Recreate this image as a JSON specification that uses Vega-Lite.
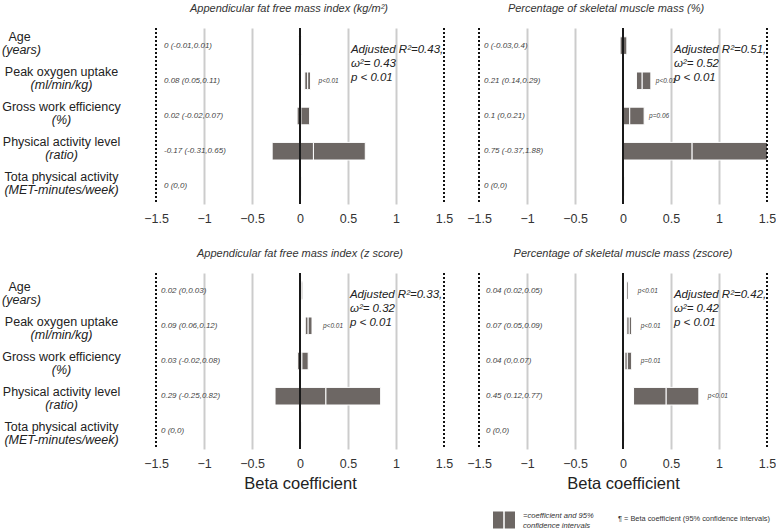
{
  "$schema": "https://vega.github.io/schema/vega-lite/v6.json",
  "background": "white",
  "padding": {"left": 1, "top": 3, "right": 0, "bottom": 0},
  "config": {
    "font": "Liberation Sans",
    "view": {"stroke": null},
    "title": {"fontSize": 11, "fontStyle": "italic", "fontWeight": "normal", "color": "#333", "offset": 13},
    "axisX": {"labelFlush": false}
  },
  "datasets": {
    "rows": [
      {"panel": "A", "v": "Age", "lab": "0 (-0.01,0.01)", "lo": -0.015, "coef": 0, "hi": 0.015, "ann": "Adjusted R²=0.43,\nω²= 0.43\np < 0.01"},
      {"panel": "A", "v": "Peak oxygen uptake", "lab": "0.08 (0.05,0.11)", "lo": 0.05, "coef": 0.08, "hi": 0.11, "p": "p<0.01"},
      {"panel": "A", "v": "Gross work efficiency", "lab": "0.02 (-0.02,0.07)", "lo": -0.03, "coef": 0.01, "hi": 0.1},
      {"panel": "A", "v": "Physical activity level", "lab": "-0.17 (-0.31,0.65)", "lo": -0.29, "coef": 0.14, "hi": 0.68},
      {"panel": "A", "v": "Tota physical activity", "lab": "0 (0,0)", "lo": 0, "coef": 0, "hi": 0.012},
      {"panel": "B", "v": "Age", "lab": "0 (-0.03,0.4)", "lo": -0.03, "coef": 0, "hi": 0.04, "ann": "Adjusted R²=0.51,\nω²= 0.52\np < 0.01"},
      {"panel": "B", "v": "Peak oxygen uptake", "lab": "0.21 (0.14,0.29)", "lo": 0.14, "coef": 0.2, "hi": 0.29, "p": "p<0.01"},
      {"panel": "B", "v": "Gross work efficiency", "lab": "0.1 (0,0.21)", "lo": 0, "coef": 0.07, "hi": 0.22, "p": "p=0.06"},
      {"panel": "B", "v": "Physical activity level", "lab": "0.75 (-0.37,1.88)", "lo": 0, "coef": 0.72, "hi": 1.88},
      {"panel": "B", "v": "Tota physical activity", "lab": "0 (0,0)", "lo": 0, "coef": 0, "hi": 0.012},
      {"panel": "C", "v": "Age", "lab": "0.02 (0,0.03)", "lo": 0, "coef": 0.02, "hi": 0.03, "ann": "Adjusted R²=0.33,\nω²= 0.32\np < 0.01"},
      {"panel": "C", "v": "Peak oxygen uptake", "lab": "0.09 (0.06,0.12)", "lo": 0.055, "coef": 0.085, "hi": 0.125, "p": "p<0.01"},
      {"panel": "C", "v": "Gross work efficiency", "lab": "0.03 (-0.02,0.08)", "lo": -0.025, "coef": 0.02, "hi": 0.085},
      {"panel": "C", "v": "Physical activity level", "lab": "0.29 (-0.25,0.82)", "lo": -0.26, "coef": 0.27, "hi": 0.84},
      {"panel": "C", "v": "Tota physical activity", "lab": "0 (0,0)", "lo": 0, "coef": 0, "hi": 0.012},
      {"panel": "D", "v": "Age", "lab": "0.04 (0.02,0.05)", "lo": 0.04, "coef": 0.06, "hi": 0.06, "p": "p<0.01", "ann": "Adjusted R²=0.42,\nω²= 0.42\np < 0.01"},
      {"panel": "D", "v": "Peak oxygen uptake", "lab": "0.07 (0.05,0.09)", "lo": 0.04, "coef": 0.065, "hi": 0.09, "p": "p<0.01"},
      {"panel": "D", "v": "Gross work efficiency", "lab": "0.04 (0,0.07)", "lo": 0.02, "coef": 0.045, "hi": 0.09, "p": "p=0.01"},
      {"panel": "D", "v": "Physical activity level", "lab": "0.45 (0.12,0.77)", "lo": 0.11, "coef": 0.45, "hi": 0.79, "p": "p<0.01"},
      {"panel": "D", "v": "Tota physical activity", "lab": "0 (0,0)", "lo": 0, "coef": 0, "hi": 0.012}
    ]
  },
  "columns": 2,
  "bounds": "flush",
  "spacing": {"row": 69, "column": 35},
  "concat": [
    {
      "width": 288, "height": 176,
      "title": {"text": "Appendicular fat free mass index (kg/m²)", "dx": -11},
      "data": {"name": "rows"},
      "transform": [{"filter": "datum.panel == 'A'"}],
      "resolve": {"axis": {"y": "independent"}},
      "layer": [
        {
          "mark": {"type": "bar", "height": {"band": 0.5}, "fill": "#6d6764", "stroke": "white", "strokeWidth": 1, "clip": true},
          "encoding": {
            "y": {"field": "v", "type": "nominal", "scale": {"domain": ["Age", "Peak oxygen uptake", "Gross work efficiency", "Physical activity level", "Tota physical activity"], "paddingInner": 0, "paddingOuter": 0},
              "axis": {"orient": "left", "title": null, "domain": false, "ticks": false, "labelAlign": "center", "labelBaseline": "middle", "labelPadding": {"condition": {"test": "datum.value == 'Age'", "value": 137}, "value": 95}, "labelOffset": -9, "labelFontSize": 12.5, "labelColor": "#222", "labelLimit": 250}},
            "x": {"field": "lo", "type": "quantitative", "scale": {"domain": [-1.5, 1.5], "nice": false, "zero": false},
              "axis": {"title": null, "values": [-1.5, -1, -0.5, 0, 0.5, 1, 1.5], "format": "~g", "domain": false, "ticks": false, "labelFlush": false, "labelPadding": 8, "labelFontSize": 12.5, "labelColor": "#333", "grid": true, "gridWidth": 2, "gridColor": "#cccccc",
                "gridOpacity": {"condition": {"test": "datum.value == 0 || abs(datum.value) == 1.5", "value": 0}, "value": 1}}},
            "x2": {"field": "coef"}
          }
        },
        {
          "mark": {"type": "bar", "height": {"band": 0.5}, "fill": "#6d6764", "stroke": "white", "strokeWidth": 1, "clip": true},
          "encoding": {
            "y": {"field": "v", "type": "nominal",
              "axis": {"orient": "left", "title": null, "domain": false, "ticks": false, "labelAlign": "center", "labelBaseline": "middle", "labelPadding": {"condition": {"test": "datum.value == 'Age'", "value": 135}, "value": 95}, "labelOffset": 4, "labelFontSize": 12.5, "labelFontStyle": "italic", "labelColor": "#222", "labelLimit": 250,
                "labelExpr": "datum.value == 'Age' ? '(years)' : datum.value == 'Peak oxygen uptake' ? '(ml/min/kg)' : datum.value == 'Gross work efficiency' ? '(%)' : datum.value == 'Physical activity level' ? '(ratio)' : '(MET-minutes/week)'"}},
            "x": {"field": "coef", "type": "quantitative"},
            "x2": {"field": "hi"}
          }
        },
        {
          "mark": {"type": "text", "align": "left", "dx": 8, "fontSize": 8, "fontStyle": "italic", "color": "#444"},
          "encoding": {"y": {"field": "v", "type": "nominal", "axis": null}, "x": {"datum": -1.5}, "text": {"field": "lab"}}
        },
        {
          "transform": [{"filter": "isValid(datum.p)"}],
          "mark": {"type": "text", "align": "left", "dx": 8, "fontSize": 6.5, "fontStyle": "italic", "color": "#444"},
          "encoding": {"y": {"field": "v", "type": "nominal", "axis": null}, "x": {"field": "hi", "type": "quantitative"}, "text": {"field": "p"}}
        },
        {"mark": {"type": "rule", "color": "#1a1a1a", "strokeWidth": 1.6}, "encoding": {"x": {"datum": 0}}},
        {"mark": {"type": "rule", "color": "#111", "strokeWidth": 2, "strokeDash": [2, 2]}, "encoding": {"x": {"datum": -1.5}}},
        {"mark": {"type": "rule", "color": "#111", "strokeWidth": 2, "strokeDash": [2, 2]}, "encoding": {"x": {"datum": 1.5}}},
        {
          "transform": [{"filter": "isValid(datum.ann)"}],
          "mark": {"type": "text", "align": "left", "baseline": "middle", "dy": 4, "fontSize": 11.5, "fontStyle": "italic", "lineBreak": "\n", "lineHeight": 14, "color": "#222"},
          "encoding": {"y": {"field": "v", "type": "nominal", "axis": null}, "x": {"datum": 0.53}, "text": {"field": "ann"}}
        }
      ]
    },
    {
      "width": 288, "height": 176,
      "title": {"text": "Percentage of skeletal muscle mass (%)", "dx": -17},
      "data": {"name": "rows"},
      "transform": [{"filter": "datum.panel == 'B'"}],
      "layer": [
        {
          "mark": {"type": "bar", "height": {"band": 0.5}, "fill": "#6d6764", "stroke": "white", "strokeWidth": 1, "clip": true},
          "encoding": {
            "y": {"field": "v", "type": "nominal", "scale": {"domain": ["Age", "Peak oxygen uptake", "Gross work efficiency", "Physical activity level", "Tota physical activity"], "paddingInner": 0, "paddingOuter": 0}, "axis": null},
            "x": {"field": "lo", "type": "quantitative", "scale": {"domain": [-1.5, 1.5], "nice": false, "zero": false},
              "axis": {"title": null, "values": [-1.5, -1, -0.5, 0, 0.5, 1, 1.5], "format": "~g", "domain": false, "ticks": false, "labelFlush": false, "labelPadding": 8, "labelFontSize": 12.5, "labelColor": "#333", "grid": true, "gridWidth": 2, "gridColor": "#cccccc",
                "gridOpacity": {"condition": {"test": "datum.value == 0 || abs(datum.value) == 1.5", "value": 0}, "value": 1}}},
            "x2": {"field": "coef"}
          }
        },
        {
          "mark": {"type": "bar", "height": {"band": 0.5}, "fill": "#6d6764", "stroke": "white", "strokeWidth": 1, "clip": true},
          "encoding": {
            "y": {"field": "v", "type": "nominal", "axis": null},
            "x": {"field": "coef", "type": "quantitative"},
            "x2": {"field": "hi"}
          }
        },
        {
          "mark": {"type": "text", "align": "left", "dx": 5, "fontSize": 8, "fontStyle": "italic", "color": "#444"},
          "encoding": {"y": {"field": "v", "type": "nominal", "axis": null}, "x": {"datum": -1.5}, "text": {"field": "lab"}}
        },
        {
          "transform": [{"filter": "isValid(datum.p)"}],
          "mark": {"type": "text", "align": "left", "dx": 5, "fontSize": 6.5, "fontStyle": "italic", "color": "#444"},
          "encoding": {"y": {"field": "v", "type": "nominal", "axis": null}, "x": {"field": "hi", "type": "quantitative"}, "text": {"field": "p"}}
        },
        {"mark": {"type": "rule", "color": "#1a1a1a", "strokeWidth": 1.6}, "encoding": {"x": {"datum": 0}}},
        {"mark": {"type": "rule", "color": "#111", "strokeWidth": 2, "strokeDash": [2, 2]}, "encoding": {"x": {"datum": -1.5}}},
        {"mark": {"type": "rule", "color": "#111", "strokeWidth": 2, "strokeDash": [2, 2]}, "encoding": {"x": {"datum": 1.5}}},
        {
          "transform": [{"filter": "isValid(datum.ann)"}],
          "mark": {"type": "text", "align": "left", "baseline": "middle", "dy": 4, "fontSize": 11.5, "fontStyle": "italic", "lineBreak": "\n", "lineHeight": 14, "color": "#222"},
          "encoding": {"y": {"field": "v", "type": "nominal", "axis": null}, "x": {"datum": 0.53}, "text": {"field": "ann"}}
        }
      ]
    },
    {
      "width": 288, "height": 176,
      "title": {"text": "Appendicular fat free mass index (z score)"},
      "data": {"name": "rows"},
      "transform": [{"filter": "datum.panel == 'C'"}],
      "resolve": {"axis": {"y": "independent"}},
      "layer": [
        {
          "mark": {"type": "bar", "height": {"band": 0.5}, "fill": "#6d6764", "stroke": "white", "strokeWidth": 1, "clip": true},
          "encoding": {
            "y": {"field": "v", "type": "nominal", "scale": {"domain": ["Age", "Peak oxygen uptake", "Gross work efficiency", "Physical activity level", "Tota physical activity"], "paddingInner": 0, "paddingOuter": 0},
              "axis": {"orient": "left", "title": null, "domain": false, "ticks": false, "labelAlign": "center", "labelBaseline": "middle", "labelPadding": {"condition": {"test": "datum.value == 'Age'", "value": 137}, "value": 95}, "labelOffset": -4, "labelFontSize": 12.5, "labelColor": "#222", "labelLimit": 250}},
            "x": {"field": "lo", "type": "quantitative", "scale": {"domain": [-1.5, 1.5], "nice": false, "zero": false},
              "axis": {"title": "Beta coefficient", "titleFontSize": 16.5, "titleFontWeight": "normal", "titleColor": "#222", "titlePadding": 6, "values": [-1.5, -1, -0.5, 0, 0.5, 1, 1.5], "format": "~g", "domain": false, "ticks": false, "labelFlush": false, "labelPadding": 8, "labelFontSize": 12.5, "labelColor": "#333", "grid": true, "gridWidth": 2, "gridColor": "#cccccc",
                "gridOpacity": {"condition": {"test": "datum.value == 0 || abs(datum.value) == 1.5", "value": 0}, "value": 1}}},
            "x2": {"field": "coef"}
          }
        },
        {
          "mark": {"type": "bar", "height": {"band": 0.5}, "fill": "#6d6764", "stroke": "white", "strokeWidth": 1, "clip": true},
          "encoding": {
            "y": {"field": "v", "type": "nominal",
              "axis": {"orient": "left", "title": null, "domain": false, "ticks": false, "labelAlign": "center", "labelBaseline": "middle", "labelPadding": {"condition": {"test": "datum.value == 'Age'", "value": 135}, "value": 95}, "labelOffset": 9, "labelFontSize": 12.5, "labelFontStyle": "italic", "labelColor": "#222", "labelLimit": 250,
                "labelExpr": "datum.value == 'Age' ? '(years)' : datum.value == 'Peak oxygen uptake' ? '(ml/min/kg)' : datum.value == 'Gross work efficiency' ? '(%)' : datum.value == 'Physical activity level' ? '(ratio)' : '(MET-minutes/week)'"}},
            "x": {"field": "coef", "type": "quantitative"},
            "x2": {"field": "hi"}
          }
        },
        {
          "mark": {"type": "text", "align": "left", "dx": 5, "fontSize": 8, "fontStyle": "italic", "color": "#444"},
          "encoding": {"y": {"field": "v", "type": "nominal", "axis": null}, "x": {"datum": -1.5}, "text": {"field": "lab"}}
        },
        {
          "transform": [{"filter": "isValid(datum.p)"}],
          "mark": {"type": "text", "align": "left", "dx": 11, "fontSize": 6.5, "fontStyle": "italic", "color": "#444"},
          "encoding": {"y": {"field": "v", "type": "nominal", "axis": null}, "x": {"field": "hi", "type": "quantitative"}, "text": {"field": "p"}}
        },
        {"mark": {"type": "rule", "color": "#1a1a1a", "strokeWidth": 1.6}, "encoding": {"x": {"datum": 0}}},
        {"mark": {"type": "rule", "color": "#111", "strokeWidth": 2, "strokeDash": [2, 2]}, "encoding": {"x": {"datum": -1.5}}},
        {"mark": {"type": "rule", "color": "#111", "strokeWidth": 2, "strokeDash": [2, 2]}, "encoding": {"x": {"datum": 1.5}}},
        {
          "transform": [{"filter": "isValid(datum.ann)"}],
          "mark": {"type": "text", "align": "left", "baseline": "middle", "dy": 4, "fontSize": 11.5, "fontStyle": "italic", "lineBreak": "\n", "lineHeight": 14, "color": "#222"},
          "encoding": {"y": {"field": "v", "type": "nominal", "axis": null}, "x": {"datum": 0.52}, "text": {"field": "ann"}}
        }
      ]
    },
    {
      "width": 288, "height": 176,
      "title": {"text": "Percentage of skeletal muscle mass (zscore)"},
      "data": {"name": "rows"},
      "transform": [{"filter": "datum.panel == 'D'"}],
      "layer": [
        {
          "mark": {"type": "bar", "height": {"band": 0.5}, "stroke": "white", "strokeWidth": 1, "clip": true},
          "encoding": {
            "y": {"field": "v", "type": "nominal", "scale": {"domain": ["Age", "Peak oxygen uptake", "Gross work efficiency", "Physical activity level", "Tota physical activity"], "paddingInner": 0, "paddingOuter": 0}, "axis": null},
            "x": {"field": "lo", "type": "quantitative", "scale": {"domain": [-1.5, 1.5], "nice": false, "zero": false},
              "axis": {"title": "Beta coefficient", "titleFontSize": 16.5, "titleFontWeight": "normal", "titleColor": "#222", "titlePadding": 6, "values": [-1.5, -1, -0.5, 0, 0.5, 1, 1.5], "format": "~g", "domain": false, "ticks": false, "labelFlush": false, "labelPadding": 8, "labelFontSize": 12.5, "labelColor": "#333", "grid": true, "gridWidth": 2, "gridColor": "#cccccc",
                "gridOpacity": {"condition": {"test": "datum.value == 0 || abs(datum.value) == 1.5", "value": 0}, "value": 1}}},
            "x2": {"field": "coef"},
            "color": {"datum": "ci", "type": "nominal", "scale": {"range": ["#6d6764"]},
              "legend": {"orient": "none", "legendX": 337, "legendY": 481, "padding": 0, "title": "¶ = Beta coefficient (95% confidence intervals)", "titleOrient": "right", "titleFontSize": 7.4, "titleFontWeight": "normal", "titleColor": "#333", "titlePadding": 24, "titleBaseline": "middle",
                "symbolType": "M-1,-0.78H-0.07V0.78H-1ZM0.07,-0.78H1V0.78H0.07Z", "symbolSize": 484, "symbolStrokeWidth": 0, "symbolFillColor": "#6d6764",
                "labelExpr": "['=coefficient and 95%', 'confidence intervals']", "labelBaseline": "bottom", "labelFontSize": 7.6, "labelFontStyle": "italic", "labelColor": "#333", "labelOffset": 8, "labelLimit": 200}}
          }
        },
        {
          "mark": {"type": "bar", "height": {"band": 0.5}, "fill": "#6d6764", "stroke": "white", "strokeWidth": 1, "clip": true},
          "encoding": {
            "y": {"field": "v", "type": "nominal", "axis": null},
            "x": {"field": "coef", "type": "quantitative"},
            "x2": {"field": "hi"}
          }
        },
        {
          "mark": {"type": "text", "align": "left", "dx": 7, "fontSize": 8, "fontStyle": "italic", "color": "#444"},
          "encoding": {"y": {"field": "v", "type": "nominal", "axis": null}, "x": {"datum": -1.5}, "text": {"field": "lab"}}
        },
        {
          "transform": [{"filter": "isValid(datum.p)"}],
          "mark": {"type": "text", "align": "left", "dx": 9, "fontSize": 6.5, "fontStyle": "italic", "color": "#444"},
          "encoding": {"y": {"field": "v", "type": "nominal", "axis": null}, "x": {"field": "hi", "type": "quantitative"}, "text": {"field": "p"}}
        },
        {"mark": {"type": "rule", "color": "#1a1a1a", "strokeWidth": 1.6}, "encoding": {"x": {"datum": 0}}},
        {"mark": {"type": "rule", "color": "#111", "strokeWidth": 2, "strokeDash": [2, 2]}, "encoding": {"x": {"datum": -1.5}}},
        {"mark": {"type": "rule", "color": "#111", "strokeWidth": 2, "strokeDash": [2, 2]}, "encoding": {"x": {"datum": 1.5}}},
        {
          "transform": [{"filter": "isValid(datum.ann)"}],
          "mark": {"type": "text", "align": "left", "baseline": "middle", "dy": 4, "fontSize": 11.5, "fontStyle": "italic", "lineBreak": "\n", "lineHeight": 14, "color": "#222"},
          "encoding": {"y": {"field": "v", "type": "nominal", "axis": null}, "x": {"datum": 0.53}, "text": {"field": "ann"}}
        }
      ]
    }
  ]
}
